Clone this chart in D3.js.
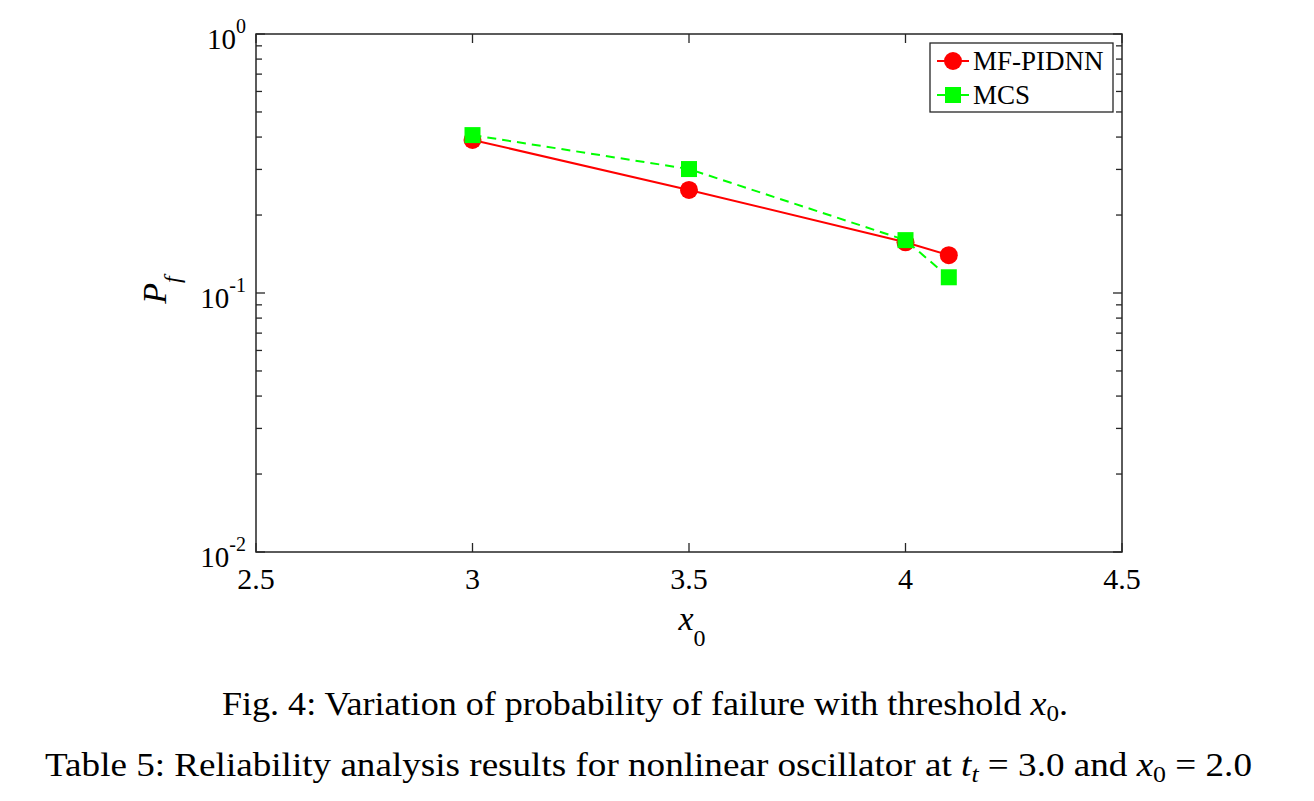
<!DOCTYPE html>
<html><head><meta charset="utf-8">
<script src="https://cdn.jsdelivr.net/npm/d3@7"></script>
<style>body{margin:0;background:#fff}svg{display:block}text{font-family:"Liberation Serif","Times New Roman",serif;fill:#000}</style>
</head><body>
<svg id="chart" width="1314" height="801"></svg>
<script>
const xValues = [3, 3.5, 4, 4.1];
const mfPidnn = [0.39, 0.25, 0.157, 0.140];
const mcs = [0.407, 0.301, 0.160, 0.115];
const seriesNames = ["MF-PIDNN", "MCS"];
const xTicks = [2.5, 3, 3.5, 4, 4.5];
const yMajor = [0.01, 0.1, 1];
const yExps = ["-2", "-1", "0"];

const svg = d3.select("#chart");
const L = 256, R = 1122, T = 34, B = 552;
const x = d3.scaleLinear().domain([2.5, 4.5]).range([L, R]);
const y = d3.scaleLog().domain([0.01, 1]).range([B, T]);
const axisColor = "#262626";

const minor = [];
[0.01, 0.1].forEach(d => { for (let k = 2; k <= 9; k++) minor.push(d * k); });

const g = svg.append("g");
g.append("rect").attr("x", L).attr("y", T).attr("width", R - L).attr("height", B - T)
  .attr("fill", "none").attr("stroke", axisColor).attr("stroke-width", 1.5);

xTicks.forEach(v => {
  g.append("line").attr("x1", x(v)).attr("x2", x(v)).attr("y1", B).attr("y2", B - 9).attr("stroke", axisColor).attr("stroke-width", 1.3);
  g.append("line").attr("x1", x(v)).attr("x2", x(v)).attr("y1", T).attr("y2", T + 9).attr("stroke", axisColor).attr("stroke-width", 1.3);
  g.append("text").attr("x", x(v)).attr("y", 589).attr("text-anchor", "middle").attr("font-size", 30).text(v);
});
yMajor.forEach((v, i) => {
  g.append("line").attr("x1", L).attr("x2", L + 9).attr("y1", y(v)).attr("y2", y(v)).attr("stroke", axisColor).attr("stroke-width", 1.3);
  g.append("line").attr("x1", R).attr("x2", R - 9).attr("y1", y(v)).attr("y2", y(v)).attr("stroke", axisColor).attr("stroke-width", 1.3);
  const t = g.append("text").attr("x", 246).attr("y", y(v) + 15).attr("text-anchor", "end").attr("font-size", 29);
  t.append("tspan").text("10");
  t.append("tspan").attr("dy", -16).attr("font-size", 20).text(yExps[i]);
});
minor.forEach(v => {
  g.append("line").attr("x1", L).attr("x2", L + 6).attr("y1", y(v)).attr("y2", y(v)).attr("stroke", axisColor).attr("stroke-width", 1.3);
  g.append("line").attr("x1", R).attr("x2", R - 6).attr("y1", y(v)).attr("y2", y(v)).attr("stroke", axisColor).attr("stroke-width", 1.3);
});

const line = d3.line().x(d => x(d[0])).y(d => y(d[1]));
const redPts = xValues.map((v, i) => [v, mfPidnn[i]]);
const greenPts = xValues.map((v, i) => [v, mcs[i]]);
g.append("path").attr("d", line(redPts)).attr("fill", "none").attr("stroke", "#ff0000").attr("stroke-width", 2);
g.selectAll(".c").data(redPts).enter().append("circle").attr("cx", d => x(d[0])).attr("cy", d => y(d[1])).attr("r", 9).attr("fill", "#ff0000");
g.append("path").attr("d", line(greenPts)).attr("fill", "none").attr("stroke", "#00ff00").attr("stroke-width", 2).attr("stroke-dasharray", "9,6");
g.selectAll(".s").data(greenPts).enter().append("rect").attr("x", d => x(d[0]) - 8).attr("y", d => y(d[1]) - 8).attr("width", 16).attr("height", 16).attr("fill", "#00ff00");

const lg = svg.append("g");
lg.append("rect").attr("x", 930).attr("y", 43).attr("width", 183).attr("height", 69).attr("fill", "#fff").attr("stroke", axisColor).attr("stroke-width", 1.3);
lg.append("line").attr("x1", 937).attr("x2", 969).attr("y1", 61).attr("y2", 61).attr("stroke", "#ff0000").attr("stroke-width", 2);
lg.append("circle").attr("cx", 953).attr("cy", 61).attr("r", 9).attr("fill", "#ff0000");
lg.append("text").attr("x", 973).attr("y", 70).attr("font-size", 27).text(seriesNames[0]);
lg.append("line").attr("x1", 937).attr("x2", 969).attr("y1", 95).attr("y2", 95).attr("stroke", "#00ff00").attr("stroke-width", 2);
lg.append("rect").attr("x", 945).attr("y", 87).attr("width", 16).attr("height", 16).attr("fill", "#00ff00");
lg.append("text").attr("x", 973).attr("y", 104).attr("font-size", 27).text(seriesNames[1]);

const yl = svg.append("text").attr("transform", "translate(166,290) rotate(-90)").attr("text-anchor", "middle").attr("font-size", 34);
yl.append("tspan").attr("font-style", "italic").text("P");
yl.append("tspan").attr("font-style", "italic").attr("font-size", 24).attr("dy", 14).text("f");
const xl = svg.append("text").attr("x", 692).attr("y", 630).attr("text-anchor", "middle").attr("font-size", 34);
xl.append("tspan").attr("font-style", "italic").text("x");
xl.append("tspan").attr("font-size", 24).attr("dy", 16).text("0");

const c1 = svg.append("text").attr("x", 222).attr("y", 715).attr("font-size", 33)
  .attr("textLength", 846).attr("lengthAdjust", "spacingAndGlyphs");
c1.append("tspan").text("Fig. 4: Variation of probability of failure with threshold ");
c1.append("tspan").attr("font-style", "italic").text("x");
c1.append("tspan").attr("font-size", 23).attr("dy", 6).text("0");
c1.append("tspan").attr("dy", -6).text(".");
const c2 = svg.append("text").attr("x", 45).attr("y", 776).attr("font-size", 33)
  .attr("textLength", 1207).attr("lengthAdjust", "spacingAndGlyphs");
c2.append("tspan").text("Table 5: Reliability analysis results for nonlinear oscillator at ");
c2.append("tspan").attr("font-style", "italic").text("t");
c2.append("tspan").attr("font-style", "italic").attr("font-size", 23).attr("dy", 6).text("t");
c2.append("tspan").attr("dy", -6).text(" = 3.0 and ");
c2.append("tspan").attr("font-style", "italic").text("x");
c2.append("tspan").attr("font-size", 23).attr("dy", 6).text("0");
c2.append("tspan").attr("dy", -6).text(" = 2.0");
</script>
</body></html>
